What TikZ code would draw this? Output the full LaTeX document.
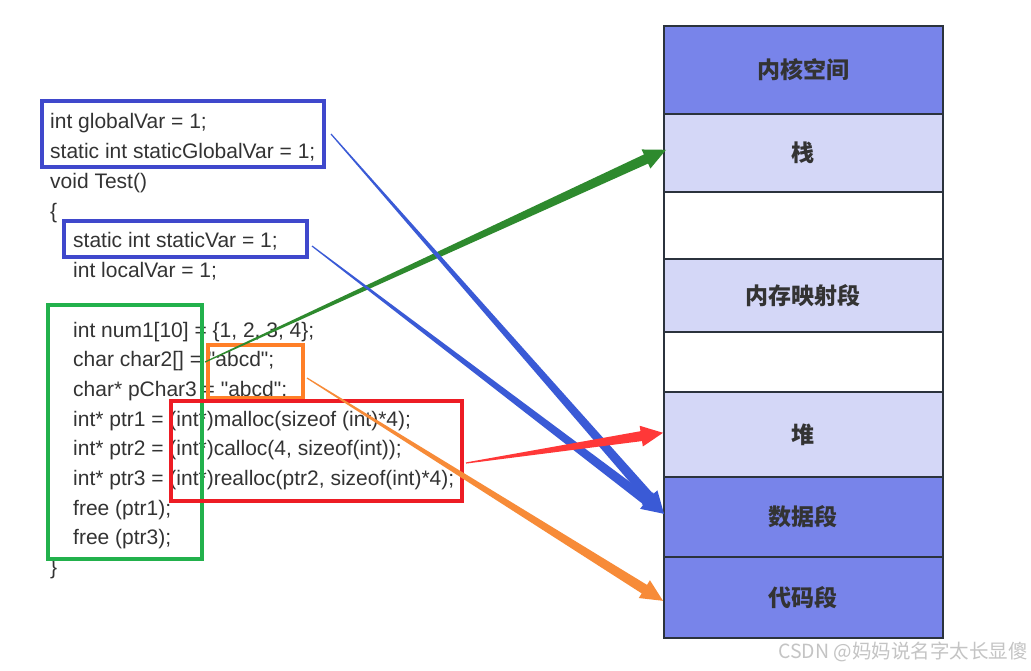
\documentclass[tikz,border=0pt]{standalone}
\usepackage{fontspec}
\setmainfont{Liberation Sans}
\newfontfamily\codefont{Liberation Sans}[Ligatures=NoCommon]
\newfontfamily\cjk{Noto Sans CJK SC}
\usetikzlibrary{calc}
\definecolor{codetext}{HTML}{333333}
\definecolor{boxblue}{HTML}{3F48CC}
\definecolor{boxgreen}{HTML}{22B14C}
\definecolor{boxred}{HTML}{ED1C24}
\definecolor{boxorange}{HTML}{FF7F27}
\definecolor{arrgreen}{HTML}{2E8A2E}
\definecolor{arrblue}{HTML}{3A5AD6}
\definecolor{arrred}{HTML}{FF3838}
\definecolor{arrorange}{HTML}{F78B38}
\definecolor{memdark}{HTML}{7884EA}
\definecolor{memlight}{HTML}{D4D7F7}
\definecolor{memborder}{HTML}{2B333D}
\definecolor{wmgray}{HTML}{C4C4C4}
\newcommand\dq{\symbol{34}}
% tapered arrow: #1 start, #2 tip, #3 colour
\newcommand\taperarrow[3]{%
  \coordinate (tneck) at ($(#2)!22pt!(#1)$);
  \fill[#3] ($(#1)!0.6pt!90:(#2)$)
    -- ($(tneck)!5pt!-90:(#1)$)
    -- ($(tneck)!10.5pt!-90:(#1)$)
    -- (#2)
    -- ($(tneck)!10.5pt!90:(#1)$)
    -- ($(tneck)!5pt!90:(#1)$)
    -- ($(#1)!0.6pt!-90:(#2)$) -- cycle;}
\begin{document}
\begin{tikzpicture}[x=1pt,y=-1pt,
  code/.style={anchor=base west, inner sep=0pt, text=codetext,
    font=\codefont\fontsize{21}{24}\selectfont},
  hbox/.style={draw=#1, line width=4pt, inner sep=0pt},
  mem/.style={draw=memborder, line width=1.6pt, minimum width=279pt,
    anchor=north west, inner sep=0pt, text=codetext,
    font=\cjk\bfseries\fontsize{23}{26}\selectfont},
  memd/.style={mem, fill=memdark},
  meml/.style={mem, fill=memlight},
  memw/.style={mem, fill=white}]
\fill[white] (0,0) rectangle (1031,670);
\useasboundingbox (0,0) rectangle (1031,670);
% code text
\node[code] (l1) at (50,128) {int globalVar = 1;};
\node[code] (l2) at (50,158) {static int staticGlobalVar = 1;};
\node[code] (l3) at (50,188) {void Test()};
\node[code] (l4) at (50,218) {\{};
\node[code] (l5) at (73,247.5) {static int staticVar = 1;};
\node[code] (l6) at (73,277) {int localVar = 1;};
\node[code] (l8) at (73,337) {int num1[10] = \{1, 2, 3, 4\};};
\node[code] (l9) at (73,366.5) {char char2[] = \dq abcd\dq;};
\node[code] (l10) at (73,396) {char* pChar3 = \dq abcd\dq;};
\node[code] (l11) at (73,426) {int* ptr1 = (int*)malloc(sizeof (int)*4);};
\node[code] (l12) at (73,455.5) {int* ptr2 = (int*)calloc(4, sizeof(int));};
\node[code] (l13) at (73,485) {int* ptr3 = (int*)realloc(ptr2, sizeof(int)*4);};
\node[code] (l14) at (73,515) {free (ptr1);};
\node[code] (l15) at (73,544.5) {free (ptr3);};
\node[code] (l16) at (50,574) {\}};
% highlight boxes
\node[hbox=boxblue, minimum width=282pt, minimum height=66pt] (box1) at (183,134) {};
\node[hbox=boxblue, minimum width=243pt, minimum height=36pt] (box2) at (185.5,239) {};
\node[hbox=boxgreen, minimum width=154pt, minimum height=254pt] (gbox) at (125,432) {};
\node[hbox=boxorange, minimum width=95pt, minimum height=53pt] (obox) at (255.5,371.5) {};
\node[hbox=boxred, minimum width=291pt, minimum height=100pt] (rbox) at (316.5,451) {};
% memory layout
\node[memd, minimum height=88pt] (kernel) at (663,25) {内核空间};
\node[meml, minimum height=78pt] (stack) at (663,113) {栈};
\node[memw, minimum height=67pt] (gap1) at (663,191) {};
\node[meml, minimum height=73pt] (mmap) at (663,258) {内存映射段};
\node[memw, minimum height=60pt] (gap2) at (663,331) {};
\node[meml, minimum height=85pt] (heap) at (663,391) {堆};
\node[memd, minimum height=80pt] (data) at (663,476) {数据段};
\node[memd, minimum height=81pt] (textseg) at (663,556) {代码段};
% watermark
\node[anchor=east, inner sep=0pt, text=wmgray, font=\cjk\fontsize{19.5}{22}\selectfont] (wm) at (1028,652) {CSDN @妈妈说名字太长显傻};
% arrow ends
\coordinate (b1s) at ($(box1.east)+(5,0)$);
\coordinate (b2s) at ($(box2.east)+(3,7)$);
\coordinate (gs) at ($(gbox.east)+(1,-70)$);
\coordinate (os) at ($(obox.east)+(2,6.5)$);
\coordinate (rs) at ($(rbox.east)+(2,12)$);
\coordinate (stackin) at ($(stack.west)+(3,-3)$);
\coordinate (heapin) at ($(heap.west)+(0,-1.5)$);
\coordinate (datain) at ($(data.west)+(1,-3)$);
\coordinate (textin) at ($(textseg.west)+(0,3.5)$);
% arrows
\taperarrow{gs}{stackin}{arrgreen}
\taperarrow{b1s}{datain}{arrblue}
\taperarrow{b2s}{datain}{arrblue}
\taperarrow{os}{textin}{arrorange}
\taperarrow{rs}{heapin}{arrred}
\end{tikzpicture}
\end{document}
